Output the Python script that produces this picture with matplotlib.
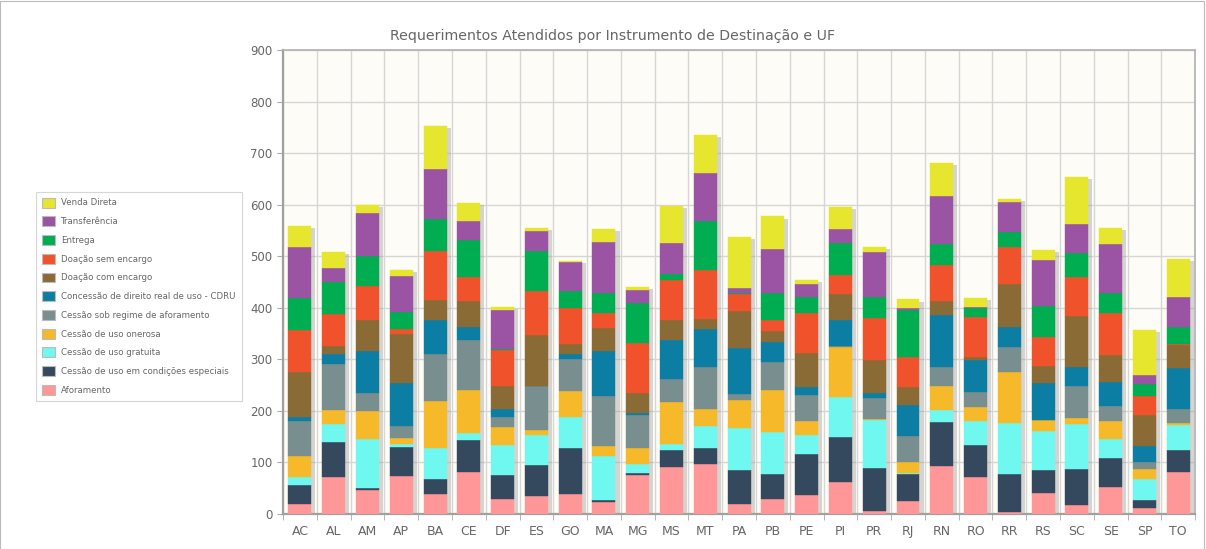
import numpy as np
import matplotlib.pyplot as plt
from matplotlib.patches import Rectangle

ufs = ["AC", "AL", "AM", "AP", "BA", "CE", "DF", "ES", "GO", "MA", "MG", "MS", "MT", "PA",
       "PB", "PE", "PI", "PR", "RJ", "RN", "RO", "RR", "RS", "SC", "SE", "SP", "TO"]

# series, bottom to top of the stack
aforamento      = [19, 72, 46, 74, 38, 82, 30, 35, 38, 23, 75, 91, 97, 19, 30, 37, 62, 6, 26, 93, 71, 3, 40, 17, 53, 11, 82]
cond_especiais  = [38, 67, 4, 56, 30, 61, 46, 60, 90, 4, 5, 34, 30, 66, 47, 80, 87, 84, 51, 86, 63, 74, 46, 70, 56, 16, 42]
gratuita        = [14, 36, 96, 5, 59, 14, 57, 58, 61, 86, 16, 10, 43, 82, 82, 37, 78, 92, 3, 23, 47, 99, 74, 87, 36, 40, 49]
onerosa         = [42, 26, 54, 13, 92, 83, 35, 10, 49, 18, 31, 82, 34, 55, 81, 27, 97, 3, 20, 46, 27, 100, 22, 12, 36, 20, 3]
regime_afor     = [67, 90, 35, 22, 92, 98, 20, 85, 62, 98, 65, 45, 82, 11, 55, 49, 2, 40, 52, 37, 29, 48, 0, 62, 28, 14, 28]
cdru            = [8, 19, 82, 84, 65, 25, 16, 0, 10, 87, 4, 76, 73, 89, 38, 16, 50, 10, 60, 100, 62, 38, 73, 38, 47, 30, 80]
doacao_com      = [88, 16, 59, 95, 39, 50, 44, 100, 20, 45, 38, 38, 19, 72, 22, 66, 50, 63, 34, 28, 5, 84, 32, 98, 53, 61, 43]
doacao_sem      = [80, 62, 67, 10, 95, 47, 71, 84, 69, 29, 98, 77, 96, 32, 21, 77, 38, 82, 58, 70, 79, 71, 56, 76, 81, 36, 3]
entrega         = [63, 61, 58, 32, 63, 71, 1, 79, 33, 39, 78, 13, 95, 3, 53, 32, 62, 41, 91, 40, 17, 29, 61, 47, 39, 25, 33]
transferencia   = [99, 28, 82, 71, 96, 37, 75, 37, 56, 99, 24, 60, 93, 9, 85, 25, 26, 88, 5, 94, 2, 59, 89, 56, 94, 17, 58]
venda_direta    = [40, 32, 16, 12, 83, 35, 6, 7, 2, 25, 6, 72, 73, 99, 63, 8, 43, 8, 16, 63, 17, 6, 19, 91, 31, 86, 74]

series = [
    ("Aforamento", aforamento, "#ff9799"),
    ("Cessão de uso em condições especiais", cond_especiais, "#34495e"),
    ("Cessão de uso gratuita", gratuita, "#6ff8ef"),
    ("Cessão de uso onerosa", onerosa, "#f5b92a"),
    ("Cessão sob regime de aforamento", regime_afor, "#798f8f"),
    ("Concessão de direito real de uso - CDRU", cdru, "#0c7ea4"),
    ("Doação com encargo", doacao_com, "#8a6b36"),
    ("Doação sem encargo", doacao_sem, "#f0532b"),
    ("Entrega", entrega, "#00ad51"),
    ("Transferência", transferencia, "#9a54a3"),
    ("Venda Direta", venda_direta, "#e6e62e"),
]

fig = plt.figure(figsize=(12.06, 5.49), dpi=100)
ax = fig.add_axes([0.2347, 0.0638, 0.7563, 0.8452])
ax.set_facecolor("#fdfcf6")

x = np.arange(len(ufs))
width = 0.68
totals = np.sum([s[1] for s in series], axis=0)

# drop shadow
ax.bar(x + 0.12, totals - 4, bottom=0, width=width, color="#9a9a9a", alpha=0.4, zorder=2)

bottom = np.zeros(len(ufs))
handles = []
for name, vals, col in series:
    vals = np.array(vals)
    b = ax.bar(x, vals, bottom=bottom, width=width, color=col, edgecolor=col,
               linewidth=0.3, label=name, zorder=3)
    handles.append(b)
    bottom += vals

ax.set_xlim(-0.5, len(ufs) - 0.5)
ax.set_ylim(0, 900)
ax.set_yticks(range(0, 901, 100))
ax.set_xticks(x)
ax.set_xticklabels(ufs)
ax.set_xticks(np.arange(-0.5, len(ufs), 1), minor=True)
ax.tick_params(axis="x", which="major", length=0, pad=8, labelsize=9, labelcolor="#666666")
ax.tick_params(axis="x", which="minor", length=4, color="#aaaaaa")
ax.tick_params(axis="y", length=4, color="#aaaaaa", labelsize=8.5, labelcolor="#666666")
ax.grid(axis="y", color="#d6d6d6", linewidth=1, zorder=0)
ax.grid(axis="x", which="minor", color="#d6d6d6", linewidth=1, zorder=0)
ax.set_axisbelow(True)
for side in ["left", "bottom"]:
    ax.spines[side].set_color("#a0a0a0")
    ax.spines[side].set_linewidth(1.6)
for side in ["top", "right"]:
    ax.spines[side].set_color("#b0b0b0")
    ax.spines[side].set_linewidth(1.2)

fig.text(0.508, 0.935, "Requerimentos Atendidos por Instrumento de Destinação e UF",
         ha="center", va="center", fontsize=10.2, color="#666666")

leg = fig.legend(handles[::-1], [s[0] for s in series][::-1], loc="upper left",
                 bbox_to_anchor=(0.030, 0.651), borderaxespad=0, fontsize=6.2,
                 frameon=True, fancybox=False, labelspacing=1.02, handlelength=1.5,
                 handleheight=1.4, borderpad=0.7, handletextpad=0.7)
leg.get_frame().set_edgecolor("#cccccc")
leg.get_frame().set_linewidth(0.8)
for t in leg.get_texts():
    t.set_color("#666666")
for h in leg.legend_handles:
    h.set_edgecolor("#bbbbbb")
    h.set_linewidth(0.8)

fig.patches.append(Rectangle((0.0, 0.0), 0.998, 0.998, transform=fig.transFigure,
                             fill=False, edgecolor="#bbbbbb", linewidth=0.8))

fig.savefig("out.png", dpi=100)
